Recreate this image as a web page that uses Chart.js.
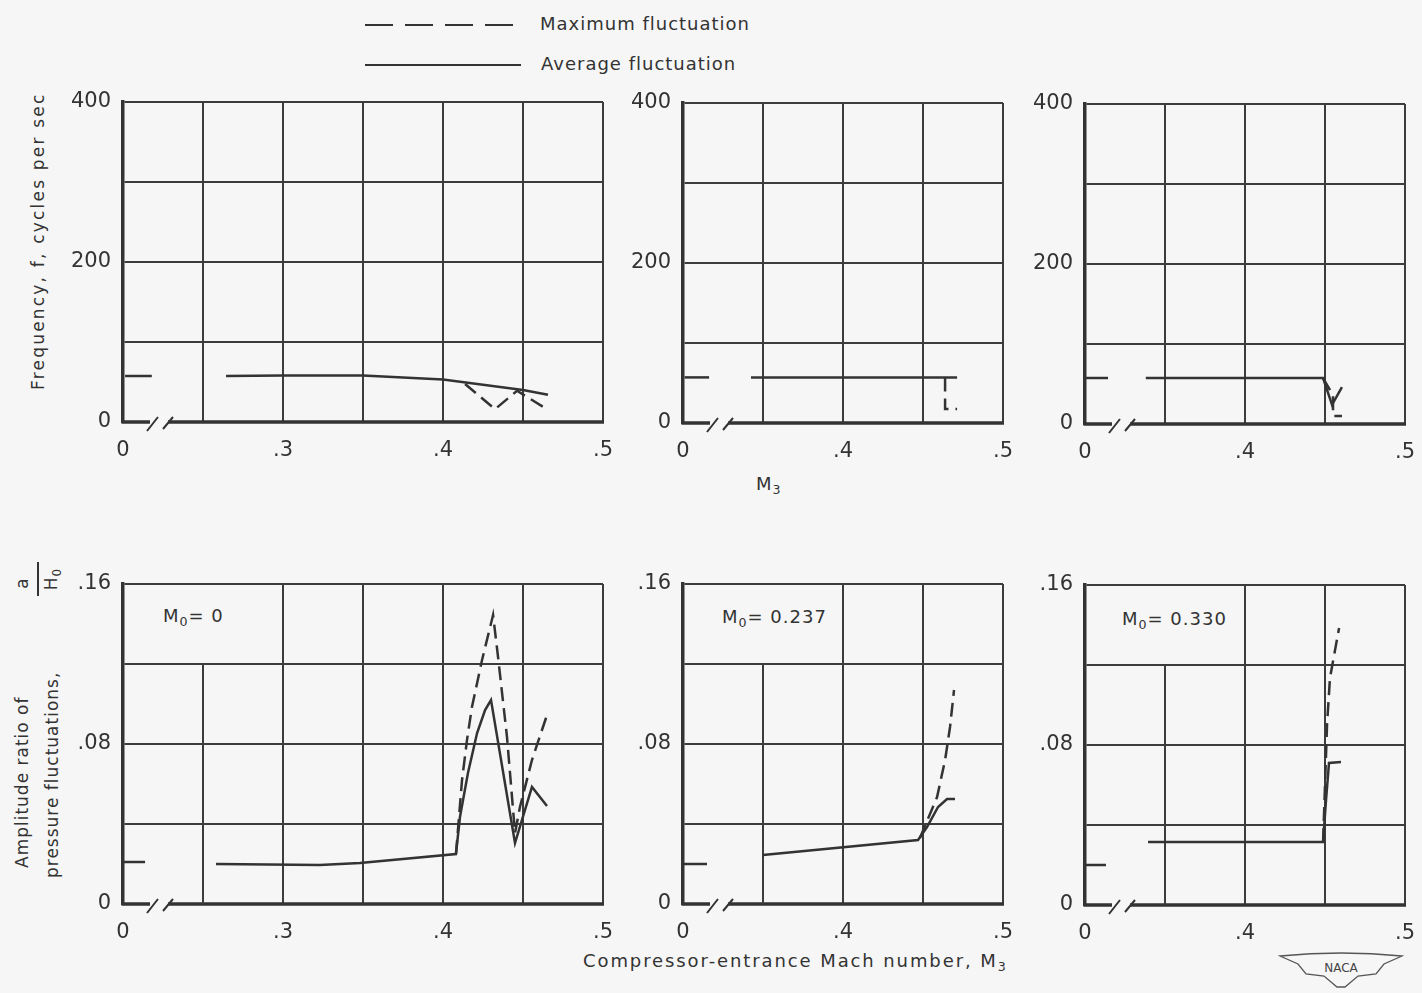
<!DOCTYPE html>
<html>
<head>
<meta charset="utf-8">
<script src="https://cdn.jsdelivr.net/npm/chart.js@4.4.0/dist/chart.umd.min.js"></script>
<style>
  body { margin: 0; background: #f6f6f6; width: 1422px; height: 993px; position: relative; overflow: hidden;
         font-family: "DejaVu Sans", sans-serif; color: #333; }
  canvas { position: absolute; }
  .txt { position: absolute; white-space: nowrap; font-size: 18px; letter-spacing: 1px; }
  .sub { font-size: 0.7em; position: relative; top: 0.35em; }
  .rot { position: absolute; transform-origin: left top; transform: rotate(-90deg); font-size: 17px; letter-spacing: 1px; }
  .rot .ln { display: flex; justify-content: space-between; height: 30px; line-height: 30px; }
</style>
</head>
<body>

<svg style="position:absolute;left:360px;top:14px" width="170" height="62">
  <line x1="5" y1="11" x2="161" y2="11" stroke="#333" stroke-width="2" stroke-dasharray="28,12"/>
  <line x1="5" y1="51" x2="161" y2="51" stroke="#333" stroke-width="2"/>
</svg>
<div class="txt" style="left:540px;top:13px">Maximum fluctuation</div>
<div class="txt" style="left:541px;top:53px">Average fluctuation</div>

<div class="rot" style="left:28px;top:390px;width:300px;letter-spacing:2.2px">Frequency, f, cycles per sec</div>
<div class="rot" style="left:7px;top:878px;width:316px">
  <div class="ln"><span style="margin-left:10px">Amplitude ratio of</span><span style="width:22px;text-align:center;margin-right:10px">a</span></div>
  <div class="ln"><span>pressure fluctuations,</span><span style="width:34px;text-align:center;border-top:2px solid #333;line-height:24px;height:26px">H<span class="sub">0</span></span></div>
</div>

<div class="txt" style="left:756px;top:473px">M<span class="sub">3</span></div>
<div class="txt" style="left:583px;top:950px;letter-spacing:1.9px">Compressor-entrance Mach number, M<span class="sub">3</span></div>

<div class="txt" style="left:163px;top:605px">M<span class="sub">0</span>= 0</div>
<div class="txt" style="left:722px;top:606px">M<span class="sub">0</span>= 0.237</div>
<div class="txt" style="left:1122px;top:608px">M<span class="sub">0</span>= 0.330</div>

<svg style="position:absolute;left:1278px;top:950px" width="126" height="40">
  <path d="M2 6 Q63 0 124 6 L106 14 L98 24 L80 26 L67 37 L59 37 L46 26 L28 24 L20 14 Z" fill="none" stroke="#555" stroke-width="1.3"/>
  <text x="63" y="22" text-anchor="middle" font-size="12" font-family="DejaVu Sans" fill="#444">NACA</text>
</svg>

<canvas id="p1"></canvas>
<canvas id="p2"></canvas>
<canvas id="p3"></canvas>
<canvas id="p4"></canvas>
<canvas id="p5"></canvas>
<canvas id="p6"></canvas>

<script>
const INK = "#333";
const GRID = "#3c3c3c";
const FONT = "DejaVu Sans";

// x values are on the broken axis: left edge (labelled 0) sits at .2 or .3

// frequency, M0 = 0
const f1ZeroM3 = [0.2013, 0.218];
const f1ZeroF = [57.5, 57.5];
const f1AvgM3 = [0.2644, 0.30, 0.35, 0.40, 0.45, 0.4656];
const f1AvgF = [57.5, 58, 58, 53, 40, 34];
const f1MaxM3 = [0.4138, 0.4325, 0.4463, 0.465];
const f1MaxF = [47.5, 16, 39, 16];

// frequency, M0 = 0.237
const f2ZeroM3 = [0.301, 0.3163];
const f2ZeroF = [57, 57];
const f2AvgM3 = [0.3425, 0.4713];
const f2AvgF = [57, 57];
const f2MaxM3 = [0.4638, 0.4638, 0.4713];
const f2MaxF = [57, 17.5, 17.5];

// frequency, M0 = 0.330
const f3ZeroM3 = [0.3006, 0.3144];
const f3ZeroF = [57.5, 57.5];
const f3AvgM3 = [0.338, 0.4488, 0.4544, 0.4606];
const f3AvgF = [57.5, 57.5, 24, 46];
const f3MaxM3 = [0.4488, 0.455, 0.455, 0.4606];
const f3MaxF = [57.5, 36, 10, 10];

// amplitude ratio, M0 = 0
const a1ZeroM3 = [0.2, 0.2138];
const a1ZeroA = [0.021, 0.021];
const a1AvgM3 = [0.2581, 0.3231, 0.3481, 0.4081, 0.4106, 0.4156, 0.4213, 0.4263, 0.43, 0.445, 0.4556, 0.465];
const a1AvgA = [0.020, 0.0195, 0.0205, 0.025, 0.0435, 0.0655, 0.0855, 0.097, 0.102, 0.0305, 0.0585, 0.049];
const a1MaxM3 = [0.4081, 0.4119, 0.415, 0.4181, 0.4244, 0.4313, 0.4344, 0.44, 0.445, 0.4481, 0.4556, 0.465];
const a1MaxA = [0.025, 0.062, 0.082, 0.0985, 0.122, 0.1445, 0.1235, 0.0835, 0.0355, 0.0485, 0.072, 0.0945];

// amplitude ratio, M0 = 0.237
const a2ZeroM3 = [0.3, 0.315];
const a2ZeroA = [0.02, 0.02];
const a2AvgM3 = [0.35, 0.4469, 0.4525, 0.4594, 0.465, 0.47];
const a2AvgA = [0.0245, 0.032, 0.0385, 0.0485, 0.0525, 0.0525];
const a2MaxM3 = [0.4481, 0.4588, 0.4638, 0.4669, 0.4694];
const a2MaxA = [0.033, 0.0535, 0.072, 0.0885, 0.107];

// amplitude ratio, M0 = 0.330
const a3ZeroM3 = [0.3, 0.3131];
const a3ZeroA = [0.02, 0.02];
const a3AvgM3 = [0.3394, 0.4488, 0.4506, 0.4525, 0.46];
const a3AvgA = [0.0315, 0.0315, 0.052, 0.071, 0.0715];
const a3MaxM3 = [0.4488, 0.4513, 0.4531, 0.4588];
const a3MaxA = [0.0315, 0.0905, 0.1135, 0.1385];

const xLabelsWide = { 20: "0", 30: ".3", 40: ".4", 50: ".5" };
const xLabelsNarrow = { 30: "0", 40: ".4", 50: ".5" };
const freqLabels = { 0: "0", 200: "200", 400: "400" };
const ampLabels = { 0: "0", 8: ".08", 16: ".16" };

const panels = [
  { id: "p1", left: 123, top: 102, w: 480, xMin: 0.2, xl: xLabelsWide, row: "f", zero: [f1ZeroM3, f1ZeroF], avg: [f1AvgM3, f1AvgF], max: [f1MaxM3, f1MaxF] },
  { id: "p2", left: 683, top: 103, w: 320, xMin: 0.3, xl: xLabelsNarrow, row: "f", zero: [f2ZeroM3, f2ZeroF], avg: [f2AvgM3, f2AvgF], max: [f2MaxM3, f2MaxF] },
  { id: "p3", left: 1085, top: 104, w: 320, xMin: 0.3, xl: xLabelsNarrow, row: "f", zero: [f3ZeroM3, f3ZeroF], avg: [f3AvgM3, f3AvgF], max: [f3MaxM3, f3MaxF] },
  { id: "p4", left: 123, top: 584, w: 480, xMin: 0.2, xl: xLabelsWide, row: "a", zero: [a1ZeroM3, a1ZeroA], avg: [a1AvgM3, a1AvgA], max: [a1MaxM3, a1MaxA] },
  { id: "p5", left: 683, top: 584, w: 320, xMin: 0.3, xl: xLabelsNarrow, row: "a", zero: [a2ZeroM3, a2ZeroA], avg: [a2AvgM3, a2AvgA], max: [a2MaxM3, a2MaxA] },
  { id: "p6", left: 1085, top: 585, w: 320, xMin: 0.3, xl: xLabelsNarrow, row: "a", zero: [a3ZeroM3, a3ZeroA], avg: [a3AvgM3, a3AvgA], max: [a3MaxM3, a3MaxA] }
];

function pts(pair) {
  return pair[0].map((x, i) => ({ x: x, y: pair[1][i] }));
}

function noPad(s) {
  s.paddingLeft = 0;
  s.paddingRight = 0;
  s.paddingTop = 0;
  s.paddingBottom = 0;
}

// bottom axis with the "//" break, and the short grid line in the amplitude panels
const framePlugin = {
  id: "frame",
  beforeDatasetsDraw(chart, args, opts) {
    const { ctx, chartArea: a, scales } = chart;
    ctx.save();
    ctx.strokeStyle = INK;
    ctx.lineWidth = 3.5;
    ctx.beginPath();
    ctx.moveTo(a.left - 1.5, a.bottom);
    ctx.lineTo(a.left + 27, a.bottom);
    ctx.moveTo(a.left + 45, a.bottom);
    ctx.lineTo(a.right + 1, a.bottom);
    ctx.stroke();
    ctx.lineWidth = 2;
    ctx.beginPath();
    ctx.moveTo(a.left + 24, a.bottom + 9);
    ctx.lineTo(a.left + 35, a.bottom - 5);
    ctx.moveTo(a.left + 40, a.bottom + 7);
    ctx.lineTo(a.left + 50, a.bottom - 5);
    ctx.stroke();
    if (opts.partial) {
      const px = scales.x.getPixelForValue(opts.partial);
      ctx.strokeStyle = GRID;
      ctx.beginPath();
      ctx.moveTo(px, scales.y.getPixelForValue(0.12));
      ctx.lineTo(px, a.bottom);
      ctx.stroke();
    }
    ctx.restore();
  }
};

panels.forEach(function (p) {
  const canvas = document.getElementById(p.id);
  canvas.width = p.w + 85;
  canvas.height = 320 + 60;
  canvas.style.left = (p.left - 70) + "px";
  canvas.style.top = (p.top - 15) + "px";

  const isFreq = p.row === "f";
  const partial = isFreq ? null : p.xMin + 0.05;

  const line = { borderColor: INK, borderWidth: 2.5, pointRadius: 0, fill: false, tension: 0 };

  new Chart(canvas, {
    type: "line",
    data: {
      datasets: [
        Object.assign({ label: "zero", data: pts(p.zero) }, line),
        Object.assign({ label: "Average fluctuation", data: pts(p.avg) }, line),
        Object.assign({ label: "Maximum fluctuation", data: pts(p.max), borderDash: [14, 7] }, line)
      ]
    },
    options: {
      responsive: false,
      animation: false,
      layout: { autoPadding: false, padding: { left: 0, top: 15, right: 15, bottom: 0 } },
      plugins: {
        legend: { display: false },
        tooltip: { enabled: false },
        frame: { partial: partial }
      },
      scales: {
        x: {
          type: "linear",
          min: p.xMin,
          max: 0.5,
          afterFit(s) { s.height = 45; noPad(s); },
          border: { display: false },
          grid: {
            lineWidth: 2,
            drawTicks: false,
            color: c => (partial && Math.abs(c.tick.value - partial) < 1e-6) ? "rgba(0,0,0,0)" : GRID
          },
          ticks: {
            stepSize: 0.05,
            autoSkip: false,
            maxRotation: 0,
            padding: 16,
            color: INK,
            font: { family: FONT, size: 21 },
            callback: v => p.xl[Math.round(v * 100)] || ""
          }
        },
        y: {
          min: 0,
          max: isFreq ? 400 : 0.16,
          afterFit(s) { s.width = 70; noPad(s); },
          border: { display: true, width: 3.5, color: INK },
          grid: {
            lineWidth: 2,
            drawTicks: false,
            color: c => c.tick.value === 0 ? "rgba(0,0,0,0)" : GRID
          },
          ticks: {
            stepSize: isFreq ? 100 : 0.04,
            autoSkip: false,
            padding: 12,
            color: INK,
            font: { family: FONT, size: 21 },
            callback: v => isFreq ? (freqLabels[v] || "") : (ampLabels[Math.round(v * 100)] || "")
          }
        }
      }
    },
    plugins: [framePlugin]
  });
});
</script>
</body>
</html>
